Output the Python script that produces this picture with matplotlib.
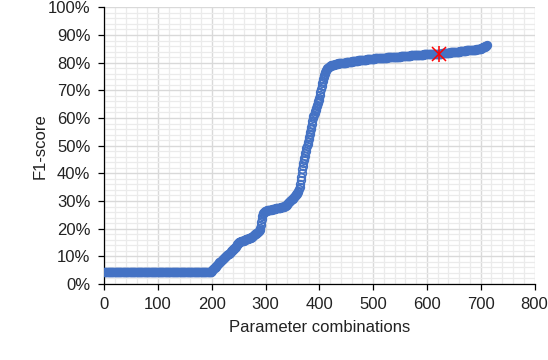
import matplotlib
matplotlib.use("Agg")
import matplotlib.pyplot as plt
from matplotlib.ticker import MultipleLocator, PercentFormatter

plt.rcParams['font.family'] = ['Liberation Sans', 'DejaVu Sans']

# F1-score (%) for each parameter combination, sorted ascending
f1_flat = [4.5] * 200  # indices 0-199: flat level
f1_rise = [
    4.8, 5.0, 5.3, 5.5, 5.7, 5.9, 6.1, 6.3, 6.5, 6.7,
    6.9, 7.1, 7.4, 7.6, 7.8, 7.9, 8.1, 8.3, 8.5, 8.7,
    8.9, 9.1, 9.3, 9.4, 9.6, 9.8, 10.0, 10.2, 10.4, 10.6,
    10.8, 10.9, 11.0, 11.1, 11.3, 11.6, 11.8, 12.0, 12.2, 12.4,
    12.6, 12.8, 12.9, 13.1, 13.4, 13.8, 14.1, 14.4, 14.6, 14.8,
    15.0, 15.1, 15.2, 15.3, 15.4, 15.5, 15.5, 15.6, 15.6, 15.7,
    15.8, 15.9, 16.0, 16.1, 16.1, 16.2, 16.3, 16.4, 16.4, 16.5,
    16.6, 16.7, 16.8, 16.9, 17.0, 17.1, 17.3, 17.5, 17.6, 17.8,
    17.9, 18.1, 18.2, 18.4, 18.5, 18.7, 18.8, 19.0, 19.2, 19.6,
    20.3, 21.3, 22.4, 23.5, 24.5, 25.2, 25.7, 26.0, 26.2, 26.3,
    26.4, 26.5, 26.5, 26.6, 26.6, 26.7, 26.7, 26.8, 26.8, 26.9,
    26.9, 26.9, 27.0, 27.0, 27.0, 27.1, 27.1, 27.2, 27.2, 27.3,
    27.3, 27.4, 27.4, 27.5, 27.5, 27.5, 27.6, 27.6, 27.7, 27.7,
    27.8, 27.8, 27.9, 27.9, 28.0, 28.1, 28.2, 28.3, 28.5, 28.7,
    28.9, 29.1, 29.3, 29.5, 29.7, 29.9, 30.1, 30.3, 30.5, 30.7,
    30.9, 31.1, 31.3, 31.5, 31.7, 31.9, 32.1, 32.4, 32.7, 33.0,
    33.3, 33.7, 34.3, 35.2, 36.3, 37.5, 38.8, 40.1, 41.4, 42.6,
    43.7, 44.7, 45.6, 46.4, 47.3, 48.2, 49.0, 49.8, 50.6, 51.5,
    52.3, 53.2, 54.1, 55.1, 56.0, 56.9, 57.9, 58.9, 59.9, 60.6,
    61.2, 61.8, 62.4, 63.0, 63.6, 64.2, 64.8, 65.4, 66.0, 66.6,
    67.3, 68.2, 69.3, 70.5, 71.6, 72.5, 73.3, 74.0, 74.7, 75.4,
    76.0, 76.5, 77.0, 77.4, 77.7, 78.0, 78.2, 78.4, 78.5, 78.7,
    78.8, 78.9, 79.0, 79.0, 79.1, 79.2, 79.2, 79.3, 79.3, 79.4,
    79.4, 79.5, 79.5, 79.6, 79.6, 79.7, 79.7, 79.8, 79.8, 79.8,
    79.8, 79.9, 79.9, 79.9, 79.9, 80.0, 80.0, 80.0, 80.0, 80.0,
]
f1_plateau = [
    80.1, 80.1, 80.2, 80.2, 80.2, 80.3, 80.3, 80.3, 80.4, 80.4,
    80.4, 80.5, 80.5, 80.5, 80.6, 80.6, 80.6, 80.6, 80.7, 80.7,
    80.7, 80.7, 80.8, 80.8, 80.8, 80.8, 80.9, 80.9, 80.9, 80.9,
    81.0, 81.0, 81.0, 81.0, 81.1, 81.1, 81.1, 81.1, 81.2, 81.2,
    81.2, 81.2, 81.2, 81.3, 81.3, 81.3, 81.3, 81.3, 81.4, 81.4,
    81.4, 81.4, 81.4, 81.5, 81.5, 81.5, 81.5, 81.5, 81.5, 81.6,
    81.6, 81.6, 81.6, 81.6, 81.7, 81.7, 81.7, 81.7, 81.7, 81.7,
    81.8, 81.8, 81.8, 81.8, 81.8, 81.8, 81.9, 81.9, 81.9, 81.9,
    81.9, 81.9, 82.0, 82.0, 82.0, 82.0, 82.0, 82.0, 82.1, 82.1,
    82.1, 82.1, 82.1, 82.1, 82.1, 82.2, 82.2, 82.2, 82.2, 82.2,
    82.2, 82.3, 82.3, 82.3, 82.3, 82.3, 82.3, 82.4, 82.4, 82.4,
    82.4, 82.4, 82.4, 82.5, 82.5, 82.5, 82.5, 82.5, 82.5, 82.5,
    82.6, 82.6, 82.6, 82.6, 82.6, 82.6, 82.7, 82.7, 82.7, 82.7,
    82.7, 82.7, 82.8, 82.8, 82.8, 82.8, 82.8, 82.8, 82.9, 82.9,
    82.9, 82.9, 82.9, 82.9, 83.0, 83.0, 83.0, 83.0, 83.0, 83.0,
    83.0, 83.0, 83.0, 83.0, 83.0, 83.1, 83.1, 83.1, 83.1, 83.1,
    83.1, 83.1, 83.1, 83.2, 83.2, 83.2, 83.2, 83.2, 83.2, 83.2,
    83.2, 83.2, 83.3, 83.3, 83.3, 83.3, 83.3, 83.3, 83.4, 83.4,
    83.4, 83.4, 83.4, 83.5, 83.5, 83.5, 83.5, 83.5, 83.6, 83.6,
    83.6, 83.6, 83.6, 83.7, 83.7, 83.7, 83.7, 83.8, 83.8, 83.8,
    83.8, 83.8, 83.9, 83.9, 83.9, 83.9, 84.0, 84.0, 84.0, 84.0,
    84.0, 84.1, 84.1, 84.1, 84.1, 84.2, 84.2, 84.2, 84.2, 84.3,
    84.3, 84.3, 84.3, 84.4, 84.4, 84.4, 84.4, 84.4, 84.5, 84.5,
    84.5, 84.5, 84.5, 84.6, 84.6, 84.6, 84.6, 84.6, 84.7, 84.7,
    84.7, 84.7, 84.8, 84.8, 84.8, 84.9, 84.9, 85.0, 85.0, 85.1,
    85.1, 85.2, 85.3, 85.4, 85.5, 85.6, 85.7, 85.8, 85.9, 86.0,
    86.1, 86.3,
]
f1_scores = f1_flat + f1_rise + f1_plateau
combinations = list(range(len(f1_scores)))

# Selected combination (red star marker)
best_combination = [623]
best_f1 = [83.2]

fig = plt.figure(figsize=(5.48, 3.60), dpi=100)
ax = fig.add_axes([0.1903, 0.2111, 0.7851, 0.7686])

ax.plot(combinations, f1_scores, linestyle='none', marker='o', markersize=5.5,
        markerfacecolor='none', markeredgecolor='#4472C4', markeredgewidth=1.2,
        zorder=3)
ax.plot(best_combination, best_f1, linestyle='none', marker='x', markersize=9.5,
        color='#FF0000', markeredgewidth=1.1, zorder=4)
ax.plot(best_combination, best_f1, linestyle='none', marker='|', markersize=11.5,
        color='#FF0000', markeredgewidth=1.1, zorder=4)

ax.set_xlim(0, 800)
ax.set_ylim(0, 100)
ax.xaxis.set_major_locator(MultipleLocator(100))
ax.xaxis.set_minor_locator(MultipleLocator(20))
ax.yaxis.set_major_locator(MultipleLocator(10))
ax.yaxis.set_minor_locator(MultipleLocator(2))
ax.yaxis.set_major_formatter(PercentFormatter(100, decimals=0))

ax.grid(which='major', color='#D9D9D9', linewidth=1.0, zorder=0)
ax.grid(which='minor', color='#EBEBEB', linewidth=0.9, zorder=0)
ax.set_axisbelow(True)

for s in ['top', 'right']:
    ax.spines[s].set_visible(False)
for s in ['left', 'bottom']:
    ax.spines[s].set_color('black')
    ax.spines[s].set_linewidth(0.9)

ax.tick_params(axis='both', which='major', direction='out', labelsize=12,
               colors='black', labelcolor='#222222', width=0.9)
ax.tick_params(axis='x', which='major', length=4, pad=5)
ax.tick_params(axis='y', which='major', length=4.5, pad=5.5)
ax.tick_params(which='minor', length=0)

ax.set_xlabel('Parameter combinations', fontsize=12, color='#222222', labelpad=6)
ax.set_ylabel('F1-score', fontsize=12, color='#222222', labelpad=0)

fig.savefig('out.png', dpi=100)
